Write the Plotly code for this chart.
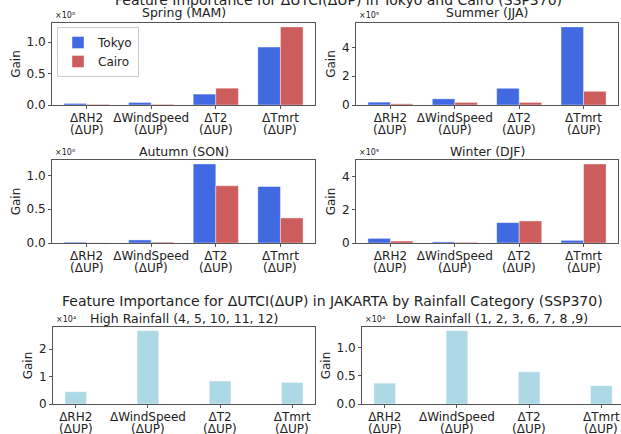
import plotly.graph_objects as go

W, H = 621, 434

feature_names = ["ΔRH2", "ΔWindSpeed", "ΔT2", "ΔTmrt"]
feature_suffix = "(ΔUP)"
cities = ["Tokyo", "Cairo"]
city_colors = ["#4169E1", "#CD5C5C"]

# Gain values, in units of each panel's multiplier (10^exp)
spring_tokyo = [0.025, 0.04, 0.173, 0.92]
spring_cairo = [0.010, 0.010, 0.267, 1.24]
summer_tokyo = [0.20, 0.43, 1.16, 5.42]
summer_cairo = [0.08, 0.18, 0.18, 0.95]
autumn_tokyo = [0.012, 0.045, 1.168, 0.835]
autumn_cairo = [0.002, 0.012, 0.845, 0.37]
winter_tokyo = [0.28, 0.07, 1.23, 0.16]
winter_cairo = [0.12, 0.04, 1.33, 4.77]
high_rain = [0.45, 2.68, 0.84, 0.79]
low_rain = [0.37, 1.30, 0.57, 0.325]

season_titles = ["Spring (MAM)", "Summer (JJA)", "Autumn (SON)", "Winter (DJF)"]
season_exps = [6, 5, 6, 5]
rain_titles = ["High Rainfall (4, 5, 10, 11, 12)", "Low Rainfall (1, 2, 3, 6, 7, 8 ,9)"]
rain_exps = [4, 4]

title_top = "Feature Importance for ΔUTCI(ΔUP) in Tokyo and Cairo (SSP370)"
title_bottom = "Feature Importance for ΔUTCI(ΔUP) in JAKARTA by Rainfall Category (SSP370)"

sup = {4: "⁴", 5: "⁵", 6: "⁶"}

def px(x):
    return x / W

def py(y):
    return 1 - y / H

FONT = "DejaVu Sans"
SPINE = "#555555"
TXT = "#222222"

# panel layout in pixels: (x0, x1, y_top, y_bottom, title_y, xrange, mirror_y)
panels = [
    (52, 315, 23, 105, 12.5, [-0.535, 3.535], True),
    (356, 618, 23, 105, 12.5, [-0.535, 3.535], True),
    (52, 315, 160, 243, 151, [-0.535, 3.535], True),
    (356, 618, 160, 243, 151, [-0.535, 3.535], True),
    (53, 315, 327, 404, 318, [-0.315, 3.315], True),
    (362, 621, 327, 404, 318, [-0.315, 3.272], False),
]

season_data = [
    (spring_tokyo, spring_cairo),
    (summer_tokyo, summer_cairo),
    (autumn_tokyo, autumn_cairo),
    (winter_tokyo, winter_cairo),
]
rain_data = [high_rain, low_rain]

fig = go.Figure()
layout = dict(
    width=W, height=H,
    margin=dict(l=0, r=0, t=0, b=0, autoexpand=False),
    paper_bgcolor="white", plot_bgcolor="white",
    barmode="overlay",
    font=dict(family=FONT, size=12, color=TXT),
    showlegend=True,
    legend=dict(x=px(57), y=py(27), xanchor="left", yanchor="top",
                bordercolor="#cccccc", borderwidth=1, bgcolor="rgba(255,255,255,0.8)",
                font=dict(size=12, family=FONT, color=TXT), tracegroupgap=0,
                itemwidth=30),
)
annotations = []

x_pos = [0, 1, 2, 3]

for i, (x0, x1, yt, yb, ty, xr, mir) in enumerate(panels):
    n = i + 1
    xa = "xaxis" if n == 1 else f"xaxis{n}"
    ya = "yaxis" if n == 1 else f"yaxis{n}"
    xref = "x" if n == 1 else f"x{n}"
    yref = "y" if n == 1 else f"y{n}"

    if i < 4:
        vals = season_data[i]
        for c, (city, col) in enumerate(zip(cities, city_colors)):
            fig.add_trace(go.Bar(
                x=x_pos, y=vals[c], width=0.35, offset=-0.35 + 0.35 * c,
                marker=dict(color=col, line=dict(width=0.6, color="rgba(255,255,255,0.7)")),
                name=city, legendgroup=city, showlegend=(i == 0),
                xaxis=xref, yaxis=yref,
            ))
        ymax = max(max(vals[0]), max(vals[1])) * 1.05
        exp = season_exps[i]
        title = season_titles[i]
    else:
        vals = rain_data[i - 4]
        fig.add_trace(go.Bar(
            x=x_pos, y=vals, width=0.3, offset=-0.15,
            marker=dict(color="#ADD8E6", line=dict(width=0.6, color="rgba(255,255,255,0.7)")),
            name="rain", showlegend=False, xaxis=xref, yaxis=yref,
        ))
        ymax = max(vals) * 1.05
        exp = rain_exps[i - 4]
        title = rain_titles[i - 4]

    if exp == 6 or i == 5:
        tickfmt, dt = ".1f", 0.5
    else:
        tickfmt, dt = "d", 2 if exp == 5 else 1

    layout[xa] = dict(
        domain=[px(x0), px(x1)], range=xr, anchor=yref, automargin=False,
        tickmode="array", tickvals=x_pos, ticktext=feature_names,
        showline=True, linecolor=SPINE, linewidth=1, mirror=True,
        ticks="outside", ticklen=3, tickcolor=SPINE,
        showgrid=False, zeroline=False, fixedrange=True,
        tickfont=dict(size=12, family=FONT, color=TXT),
        ticklabelstandoff=-1,
    )
    layout[ya] = dict(
        domain=[py(yb), py(yt)], range=[0, ymax], anchor=xref, automargin=False,
        dtick=dt, tick0=0, tickformat=tickfmt,
        showline=True, linecolor=SPINE, linewidth=1, mirror=mir,
        ticks="outside", ticklen=3, tickcolor=SPINE,
        showgrid=False, zeroline=False, fixedrange=True,
        tickfont=dict(size=12, family=FONT, color=TXT),
        title=dict(text="Gain", font=dict(size=12, family=FONT, color=TXT), standoff=3),
    )
    # second line of each category label
    for xv in x_pos:
        annotations.append(dict(
            text=feature_suffix, x=xv, xref=xref, y=py(yb + 25), yref="paper",
            xanchor="center", yanchor="middle", showarrow=False, borderpad=0,
            font=dict(size=12, family=FONT, color=TXT),
        ))
    annotations.append(dict(
        text=title, x=px((x0 + x1) / 2), y=py(ty), xref="paper", yref="paper",
        xanchor="center", yanchor="middle", showarrow=False,
        font=dict(size=12.5, family=FONT, color=TXT),
    ))
    annotations.append(dict(
        text="×10" + sup[exp], x=px(x0 + 1), y=py(yt - 7.5), xref="paper", yref="paper",
        xanchor="left", yanchor="middle", showarrow=False,
        font=dict(size=8, family=FONT, color=TXT),
    ))

annotations.append(dict(
    text=title_top, x=px(338), y=py(0.5), xref="paper", yref="paper",
    xanchor="center", yanchor="middle", showarrow=False,
    font=dict(size=14, family=FONT, color=TXT),
))
annotations.append(dict(
    text=title_bottom, x=px(332), y=py(301), xref="paper", yref="paper",
    xanchor="center", yanchor="middle", showarrow=False,
    font=dict(size=14, family=FONT, color=TXT),
))

layout["annotations"] = annotations
fig.update_layout(**layout)
fig.write_html(
    "out.html",
    config={"displayModeBar": False},
    post_script="document.body.style.margin='0';document.body.style.overflow='hidden';",
)
